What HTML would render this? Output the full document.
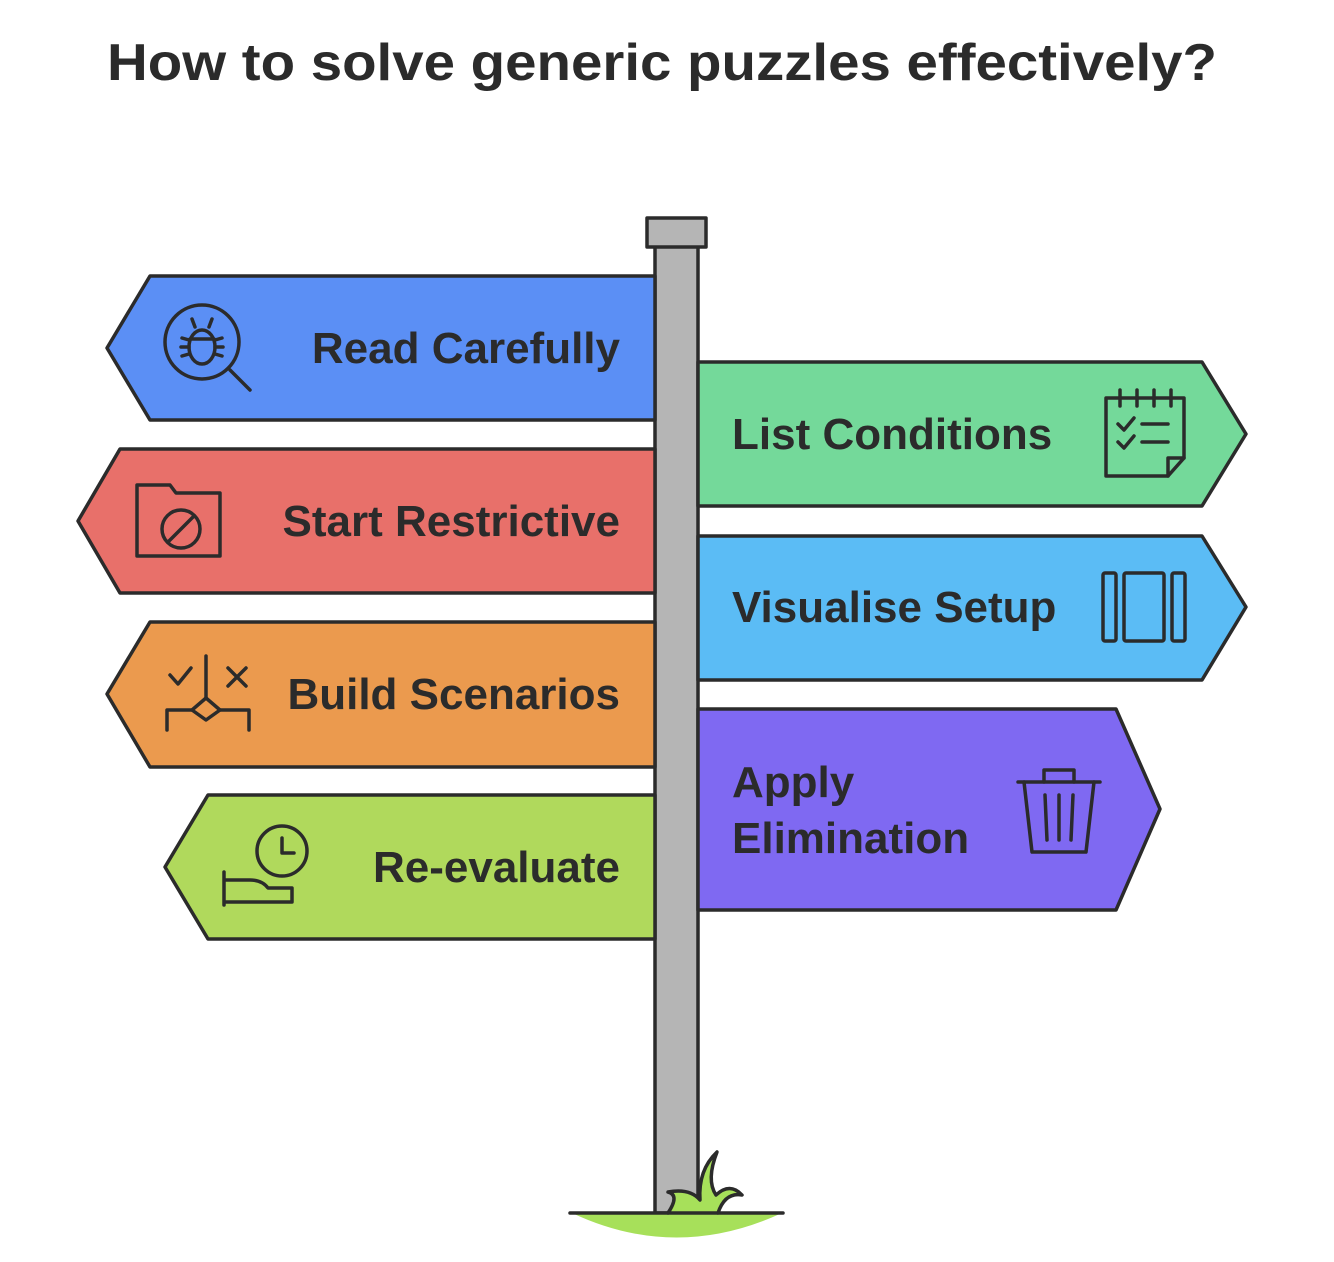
<!DOCTYPE html>
<html><head><meta charset="utf-8"><style>
html,body{margin:0;padding:0;background:#fff;}
svg{display:block;}
text{font-family:"Liberation Sans",sans-serif;font-weight:bold;fill:#2b2b2b;}
</style></head><body>
<svg width="1334" height="1262" viewBox="0 0 1334 1262" xmlns="http://www.w3.org/2000/svg">
<text x="662" y="80" font-size="52" text-anchor="middle" textLength="1110" lengthAdjust="spacingAndGlyphs">How to solve generic puzzles effectively?</text>
<g stroke="#2b2b2b" stroke-width="3.5" stroke-linejoin="round">
<!-- pole -->
<rect x="655" y="245" width="43" height="968" fill="#b5b5b5"/>
<rect x="647" y="218" width="59" height="29" fill="#b5b5b5"/>
<!-- left signs -->
<polygon points="655,276 150,276 107,348 150,420 655,420" fill="#5b8ff5"/>
<polygon points="655,449 120,449 78,521 120,593 655,593" fill="#e8706a"/>
<polygon points="655,622 150,622 107,694 150,767 655,767" fill="#eb9a4e"/>
<polygon points="655,795 208,795 165,867 208,939 655,939" fill="#b0d95c"/>
<!-- right signs -->
<polygon points="698,362 1202,362 1246,434 1202,506 698,506" fill="#74d99a"/>
<polygon points="698,536 1202,536 1246,607 1202,680 698,680" fill="#5bbcf5"/>
<polygon points="698,709 1116,709 1160,809 1116,910 698,910" fill="#7f69f2"/>
</g>
<!-- ground -->
<path d="M572,1213 Q676,1262 782,1213 Z" fill="#a7e05a"/>
<path d="M668,1213 Q680,1195 668,1192 Q690,1188 700,1200 Q698,1170 717,1152 Q706,1180 716,1195 Q730,1182 742,1195 Q725,1192 718,1213 Z" fill="#a7e05a" stroke="#2b2b2b" stroke-width="3.5" stroke-linejoin="round"/>
<line x1="570" y1="1213" x2="668" y2="1213" stroke="#2b2b2b" stroke-width="3.5" stroke-linecap="round"/>
<line x1="718" y1="1213" x2="783" y2="1213" stroke="#2b2b2b" stroke-width="3.5" stroke-linecap="round"/>
<!-- labels -->
<text x="620" y="363" font-size="44" text-anchor="end">Read Carefully</text>
<text x="620" y="536" font-size="44" text-anchor="end">Start Restrictive</text>
<text x="620" y="709" font-size="44" text-anchor="end">Build Scenarios</text>
<text x="620" y="882" font-size="44" text-anchor="end">Re-evaluate</text>
<text x="732" y="449" font-size="44">List Conditions</text>
<text x="732" y="622" font-size="44">Visualise Setup</text>
<text x="732" y="797" font-size="44">Apply</text>
<text x="732" y="853" font-size="44">Elimination</text>
<!-- icons -->
<g fill="none" stroke="#2b2b2b" stroke-width="3.5" stroke-linecap="round" stroke-linejoin="round">
<!-- bug magnifier -->
<circle cx="202" cy="342" r="37"/>
<line x1="230" y1="370" x2="250" y2="390"/>
<ellipse cx="202" cy="347" rx="13" ry="17"/>
<line x1="190" y1="339" x2="214" y2="339"/>
<line x1="195" y1="327" x2="192" y2="319"/><line x1="209" y1="327" x2="212" y2="319"/>
<line x1="182" y1="338" x2="189" y2="340"/><line x1="181" y1="347" x2="189" y2="347"/><line x1="182" y1="356" x2="189" y2="354"/>
<line x1="222" y1="338" x2="215" y2="340"/><line x1="223" y1="347" x2="215" y2="347"/><line x1="222" y1="356" x2="215" y2="354"/>
<!-- folder -->
<path d="M137,485 H170 L176,493 H220 V556 H137 Z"/>
<circle cx="181" cy="529" r="19"/><line x1="168" y1="542" x2="194" y2="516"/>
<!-- scenarios -->
<path d="M167,730 V710 H192 L206,698 L220,710 H249 V730"/>
<path d="M192,710 L206,720 L220,710"/>
<line x1="206" y1="656" x2="206" y2="698"/>
<path d="M170,675 L178,684 L191,668"/>
<path d="M228,668 L246,686 M246,668 L228,686"/>
<!-- hand clock -->
<circle cx="282" cy="851" r="25"/><path d="M282,838 V853 H294"/>
<path d="M224,872 V905 M224,880 H250 Q262,880 268,888 H292 V902 H224"/>
<!-- calendar -->
<path d="M1106,398 H1184 V458 L1168,476 H1106 Z"/>
<path d="M1168,476 V458 H1184"/>
<line x1="1120" y1="390" x2="1120" y2="406"/><line x1="1137" y1="390" x2="1137" y2="406"/><line x1="1154" y1="390" x2="1154" y2="406"/><line x1="1171" y1="390" x2="1171" y2="406"/>
<path d="M1118,424 L1124,430 L1134,418"/><line x1="1142" y1="424" x2="1168" y2="424"/>
<path d="M1118,442 L1124,448 L1134,436"/><line x1="1142" y1="442" x2="1168" y2="442"/>
<!-- visualise -->
<rect x="1103" y="573" width="13" height="68" rx="2"/>
<rect x="1124" y="573" width="40" height="68" rx="2"/>
<rect x="1172" y="573" width="13" height="68" rx="2"/>
<!-- trash -->
<line x1="1018" y1="782" x2="1100" y2="782"/>
<path d="M1044,782 V770 H1074 V782"/>
<path d="M1024,782 L1032,852 H1086 L1094,782"/>
<line x1="1045" y1="795" x2="1047" y2="840"/><line x1="1059" y1="795" x2="1059" y2="840"/><line x1="1073" y1="795" x2="1071" y2="840"/>
</g>
</svg>
</body></html>
